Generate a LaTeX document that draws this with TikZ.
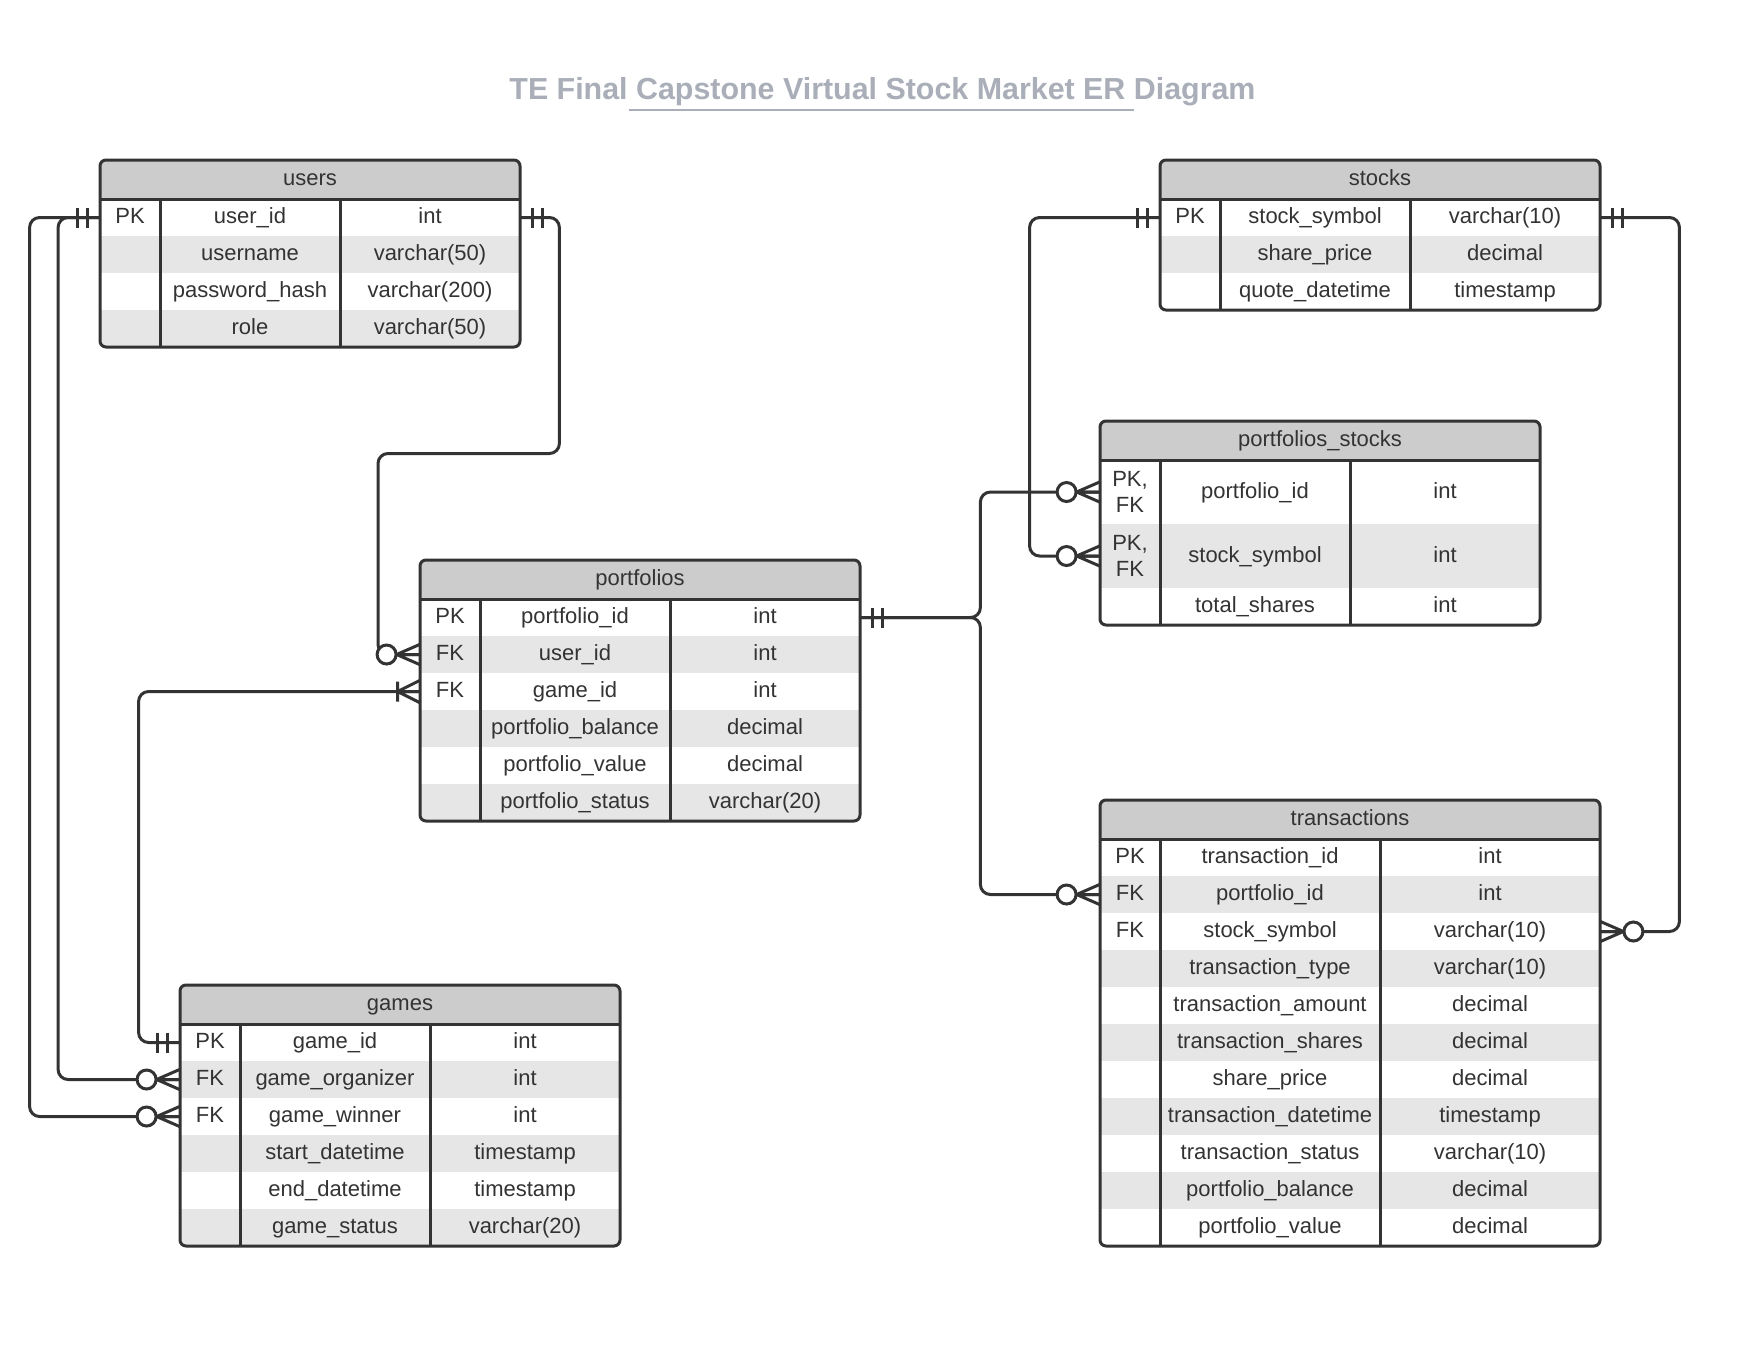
\documentclass[tikz,border=0pt]{standalone}
\usepackage{fontspec}
\setmainfont{Liberation Sans}
\usepackage{xcolor}
\definecolor{titlegray}{RGB}{169,174,184}
\definecolor{hdrgray}{RGB}{204,204,204}
\definecolor{rowgray}{RGB}{230,230,230}
\definecolor{linegray}{RGB}{51,51,51}

\tikzset{
  tbl/.style={draw=linegray, line width=1.5pt},
  cellbox/.style={inner sep=0pt, text=linegray, font=\fontsize{11}{13}\selectfont, minimum height=18.5pt},
  cell/.style={cellbox, text height=8.3pt, text depth=2.3pt},
  hdr/.style={cell, minimum height=19.5pt},
  rel/.style={draw=linegray, line width=1.5pt, rounded corners=5pt},
  cardline/.style={draw=linegray, line width=1.5pt},
  crowone/.pic={\draw[cardline] (-12.5,-10) -- (-12.5,10) (-22.5,-10) -- (-22.5,10);},
  crowzmany/.pic={\draw[cardline] (-23,0) -- (0,-10) (-23,0) -- (0,0) (-23,0) -- (0,10);
                  \draw[cardline, fill=white] (-33,0) circle[radius=9.5];},
  crowonemany/.pic={\draw[cardline] (-22,-10) -- (-22,10) (-22,0) -- (0,-11) (-22,0) -- (0,0) (-22,0) -- (0,11);},
}

\begin{document}
\begin{tikzpicture}[x=0.5pt, y=-0.5pt]
  \useasboundingbox[fill=white] (0,0) rectangle (1760,1360);

  % title
  \node[font=\bfseries\fontsize{15.2}{18}\selectfont, text=titlegray, anchor=base] (title) at (882.5,99)
    {TE Final Capstone Virtual Stock Market ER Diagram};
  \draw[titlegray, line width=1.3pt] (628.5,110) -- (1133.5,110);

  % users
  \begin{scope}
    \clip[rounded corners=3pt] (100,160) rectangle (520,347);
    \fill[hdrgray] (100,160) rectangle (520,199);
    \foreach \i in {2,4} \fill[rowgray] (100,162+37*\i) rectangle (520,199+37*\i);
  \end{scope}
  \draw[tbl, rounded corners=3pt] (100,160) rectangle (520,347);
  \draw[tbl] (100,199) -- (520,199) (160,199) -- (160,347) (340,199) -- (340,347);
  \node[hdr, minimum width=210pt] (users) at (310,179.5) {users};
  \foreach \k/\n/\t [count=\i] in {PK/user\_id/int, /username/varchar(50), /password\_hash/varchar(200), /role/varchar(50)} {
    \node[cell, minimum width=30pt] (users-k\i) at (130,180.5+37*\i) {\k};
    \node[cell, minimum width=90pt] (users-n\i) at (250,180.5+37*\i) {\n};
    \node[cell, minimum width=90pt] (users-t\i) at (430,180.5+37*\i) {\t};
  }

  % stocks
  \begin{scope}
    \clip[rounded corners=3pt] (1160,160) rectangle (1600,310);
    \fill[hdrgray] (1160,160) rectangle (1600,199);
    \fill[rowgray] (1160,236) rectangle (1600,273);
  \end{scope}
  \draw[tbl, rounded corners=3pt] (1160,160) rectangle (1600,310);
  \draw[tbl] (1160,199) -- (1600,199) (1220,199) -- (1220,310) (1410,199) -- (1410,310);
  \node[hdr, minimum width=220pt] (stocks) at (1380,179.5) {stocks};
  \foreach \k/\n/\t [count=\i] in {PK/stock\_symbol/varchar(10), /share\_price/decimal, /quote\_datetime/timestamp} {
    \node[cell, minimum width=30pt] (stocks-k\i) at (1190,180.5+37*\i) {\k};
    \node[cell, minimum width=95pt] (stocks-n\i) at (1315,180.5+37*\i) {\n};
    \node[cell, minimum width=95pt] (stocks-t\i) at (1505,180.5+37*\i) {\t};
  }

  % portfolios_stocks
  \begin{scope}
    \clip[rounded corners=3pt] (1100,421) rectangle (1540,625);
    \fill[hdrgray] (1100,421) rectangle (1540,460);
    \fill[rowgray] (1100,524) rectangle (1540,588);
  \end{scope}
  \draw[tbl, rounded corners=3pt] (1100,421) rectangle (1540,625);
  \draw[tbl] (1100,460) -- (1540,460) (1160,460) -- (1160,625) (1350,460) -- (1350,625);
  \node[hdr, minimum width=220pt] (pstk) at (1320,440.5) {portfolios\_stocks};
  \node[cellbox, minimum width=30pt, minimum height=32pt, align=center] (pstk-k1) at (1130,492) {PK,\\FK};
  \node[cell, minimum width=95pt, minimum height=32pt] (pstk-n1) at (1255,492) {portfolio\_id};
  \node[cell, minimum width=95pt, minimum height=32pt] (pstk-t1) at (1445,492) {int};
  \node[cellbox, minimum width=30pt, minimum height=32pt, align=center] (pstk-k2) at (1130,556) {PK,\\FK};
  \node[cell, minimum width=95pt, minimum height=32pt] (pstk-n2) at (1255,556) {stock\_symbol};
  \node[cell, minimum width=95pt, minimum height=32pt] (pstk-t2) at (1445,556) {int};
  \node[cell, minimum width=30pt] (pstk-k3) at (1130,606.5) {};
  \node[cell, minimum width=95pt] (pstk-n3) at (1255,606.5) {total\_shares};
  \node[cell, minimum width=95pt] (pstk-t3) at (1445,606.5) {int};

  % portfolios
  \begin{scope}
    \clip[rounded corners=3pt] (420,560) rectangle (860,821);
    \fill[hdrgray] (420,560) rectangle (860,599);
    \foreach \i in {2,4,6} \fill[rowgray] (420,562+37*\i) rectangle (860,599+37*\i);
  \end{scope}
  \draw[tbl, rounded corners=3pt] (420,560) rectangle (860,821);
  \draw[tbl] (420,599) -- (860,599) (480,599) -- (480,821) (670,599) -- (670,821);
  \node[hdr, minimum width=220pt] (port) at (640,579.5) {portfolios};
  \foreach \k/\n/\t [count=\i] in {PK/portfolio\_id/int, FK/user\_id/int, FK/game\_id/int,
      /portfolio\_balance/decimal, /portfolio\_value/decimal, /portfolio\_status/varchar(20)} {
    \node[cell, minimum width=30pt] (port-k\i) at (450,580.5+37*\i) {\k};
    \node[cell, minimum width=95pt] (port-n\i) at (575,580.5+37*\i) {\n};
    \node[cell, minimum width=95pt] (port-t\i) at (765,580.5+37*\i) {\t};
  }

  % games
  \begin{scope}
    \clip[rounded corners=3pt] (180,985) rectangle (620,1246);
    \fill[hdrgray] (180,985) rectangle (620,1024);
    \foreach \i in {2,4,6} \fill[rowgray] (180,987+37*\i) rectangle (620,1024+37*\i);
  \end{scope}
  \draw[tbl, rounded corners=3pt] (180,985) rectangle (620,1246);
  \draw[tbl] (180,1024) -- (620,1024) (240,1024) -- (240,1246) (430,1024) -- (430,1246);
  \node[hdr, minimum width=220pt] (games) at (400,1004.5) {games};
  \foreach \k/\n/\t [count=\i] in {PK/game\_id/int, FK/game\_organizer/int, FK/game\_winner/int,
      /start\_datetime/timestamp, /end\_datetime/timestamp, /game\_status/varchar(20)} {
    \node[cell, minimum width=30pt] (games-k\i) at (210,1005.5+37*\i) {\k};
    \node[cell, minimum width=95pt] (games-n\i) at (335,1005.5+37*\i) {\n};
    \node[cell, minimum width=95pt] (games-t\i) at (525,1005.5+37*\i) {\t};
  }

  % transactions
  \begin{scope}
    \clip[rounded corners=3pt] (1100,800) rectangle (1600,1246);
    \fill[hdrgray] (1100,800) rectangle (1600,839);
    \foreach \i in {2,4,...,10} \fill[rowgray] (1100,802+37*\i) rectangle (1600,839+37*\i);
  \end{scope}
  \draw[tbl, rounded corners=3pt] (1100,800) rectangle (1600,1246);
  \draw[tbl] (1100,839) -- (1600,839) (1160,839) -- (1160,1246) (1380,839) -- (1380,1246);
  \node[hdr, minimum width=250pt] (trans) at (1350,819.5) {transactions};
  \foreach \k/\n/\t [count=\i] in {PK/transaction\_id/int, FK/portfolio\_id/int, FK/stock\_symbol/varchar(10),
      /transaction\_type/varchar(10), /transaction\_amount/decimal, /transaction\_shares/decimal,
      /share\_price/decimal, /transaction\_datetime/timestamp, /transaction\_status/varchar(10),
      /portfolio\_balance/decimal, /portfolio\_value/decimal} {
    \node[cell, minimum width=30pt] (trans-k\i) at (1130,820.5+37*\i) {\k};
    \node[cell, minimum width=110pt] (trans-n\i) at (1270,820.5+37*\i) {\n};
    \node[cell, minimum width=110pt] (trans-t\i) at (1490,820.5+37*\i) {\t};
  }

  % relationships
  \draw[rel] (users-t1.east) -- ++(39,0) |- (378,453.5) |- (port-k2.west);
  \draw[rel] (users-k1.west) -- ++(-41.5,0) |- (games-k2.west);
  \draw[rel] (users-k1.west) -- ++(-70,0) |- (games-k3.west);
  \draw[rel] (games-k1.west) -- ++(-41,0) |- (port-k3.west);
  \draw[rel] (port-t1.east) -- ++(120,0) |- (pstk-k1.west);
  \draw[rel] (port-t1.east) -- ++(120,0) |- (trans-k2.west);
  \draw[rel] (stocks-k1.west) -- ++(-130,0) |- (pstk-k2.west);
  \draw[rel] (stocks-t1.east) -- ++(79,0) |- (trans-t3.east);

  % cardinality marks
  \pic at (users-k1.west) {crowone};
  \pic[rotate=180] at (users-t1.east) {crowone};
  \pic at (games-k1.west) {crowone};
  \pic at (games-k2.west) {crowzmany};
  \pic at (games-k3.west) {crowzmany};
  \pic at (port-k2.west) {crowzmany};
  \pic at (port-k3.west) {crowonemany};
  \pic[rotate=180] at (port-t1.east) {crowone};
  \pic at (pstk-k1.west) {crowzmany};
  \pic at (pstk-k2.west) {crowzmany};
  \pic at (trans-k2.west) {crowzmany};
  \pic[rotate=180] at (trans-t3.east) {crowzmany};
  \pic at (stocks-k1.west) {crowone};
  \pic[rotate=180] at (stocks-t1.east) {crowone};
\end{tikzpicture}
\end{document}
